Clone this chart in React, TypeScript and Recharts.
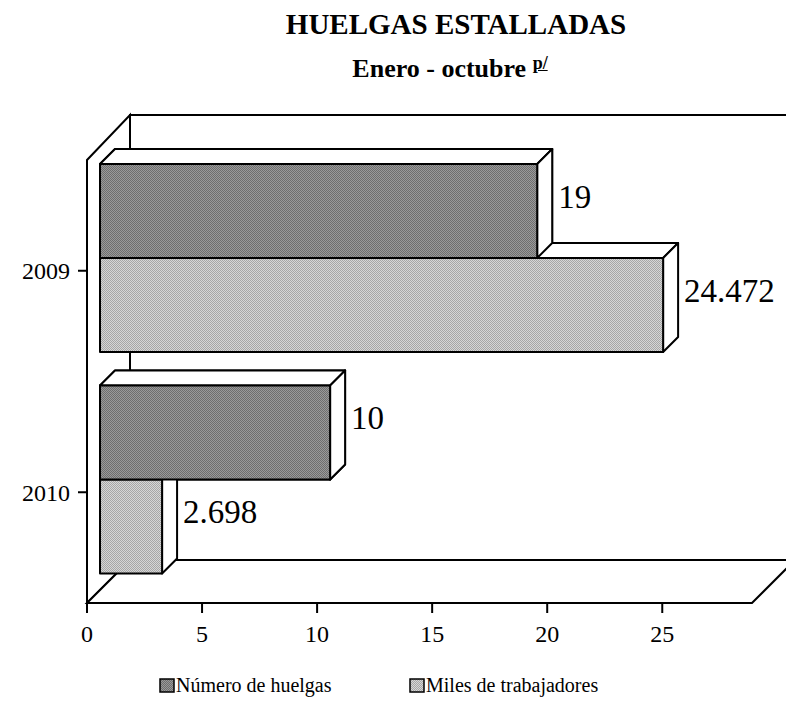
import { Bar, BarChart, XAxis, YAxis } from "recharts";

const years = ["2009", "2010"];
const numeroHuelgas = [19, 10];
const milesTrabajadores = [24.472, 2.698];
const xTicks = [0, 5, 10, 15, 20, 25];

const data = years.map((year, i) => ({
  year,
  huelgas: numeroHuelgas[i],
  miles: milesTrabajadores[i],
}));

const W = 786;
const H = 703;
const PLOT_LEFT = 87;
const PLOT_TOP = 160;
const PLOT_RIGHT = 752;
const PLOT_BOTTOM = 603;
const XAXIS_H = 40;
const WALL = 43; // depth of the 3d frame
const SHIFT = 13; // bar front face offset from front plane
const D = 15; // bar depth
const FONT = '"Liberation Serif", "Times New Roman", serif';

function box(x: number, y: number, w: number, h: number, fill: string) {
  const x0 = x + SHIFT;
  const y0 = y - SHIFT;
  return (
    <g stroke="#000" strokeWidth={2} strokeLinejoin="round">
      <polygon fill="#fff" points={`${x0},${y0} ${x0 + D},${y0 - D} ${x0 + w + D},${y0 - D} ${x0 + w},${y0}`} />
      <polygon fill="#fff" points={`${x0 + w},${y0} ${x0 + w + D},${y0 - D} ${x0 + w + D},${y0 + h - D} ${x0 + w},${y0 + h}`} />
      <rect x={x0} y={y0} width={w} height={h} fill={fill} />
    </g>
  );
}

function valueLabel(x: number, y: number, w: number, h: number, v: number) {
  return (
    <text x={x + SHIFT + w + D + 6} y={y - SHIFT - D + h / 2} dy="0.35em" fontSize={33} fontFamily={FONT} fill="#000">
      {String(v)}
    </text>
  );
}

function HuelgasShape(props: any) {
  const { x, y, width, height, payload } = props;
  return (
    <g>
      {box(x, y, width, height, "url(#patDark)")}
      {valueLabel(x, y, width, height, payload.huelgas)}
    </g>
  );
}

function MilesShape(props: any) {
  const { x, y, width, height, payload } = props;
  // redraw the bar above so it stays in front of this one
  const wH = (width * payload.huelgas) / payload.miles;
  return (
    <g>
      {box(x, y, width, height, "url(#patLight)")}
      {valueLabel(x, y, width, height, payload.miles)}
      {box(x, y - height, wH, height, "url(#patDark)")}
    </g>
  );
}

function Frame() {
  const bx = PLOT_LEFT + WALL;
  const ty = PLOT_TOP - WALL - 2;
  const by = PLOT_BOTTOM - WALL;
  return (
    <svg width={W} height={H} style={{ position: "absolute", left: 0, top: 0 }}>
      <g stroke="#000" strokeWidth={2} fill="#fff">
        <rect x={bx} y={ty} width={PLOT_RIGHT - PLOT_LEFT + 10} height={by - ty} />
        <polygon points={`${PLOT_LEFT},${PLOT_TOP} ${bx},${ty} ${bx},${by} ${PLOT_LEFT},${PLOT_BOTTOM}`} />
        <polygon points={`${PLOT_LEFT},${PLOT_BOTTOM} ${bx},${by} ${PLOT_RIGHT + WALL},${by} ${PLOT_RIGHT},${PLOT_BOTTOM}`} />
      </g>
    </svg>
  );
}

function Swatch({ fill }: { fill: string }) {
  return (
    <svg width={16} height={15} style={{ marginRight: 1 }}>
      <defs>
        <pattern id={"lg" + fill} width={2} height={2} patternUnits="userSpaceOnUse">
          <rect width={2} height={2} fill={fill === "dark" ? "#9a9a9a" : "#d6d6d6"} />
          <rect width={1} height={1} fill={fill === "dark" ? "#6e6e6e" : "#a6a6a6"} />
          <rect x={1} y={1} width={1} height={1} fill={fill === "dark" ? "#6e6e6e" : "#a6a6a6"} />
        </pattern>
      </defs>
      <rect x={1} y={1} width={14} height={13} fill={`url(#lg${fill})`} stroke="#000" strokeWidth={1.5} />
    </svg>
  );
}

export default function App() {
  return (
    <div style={{ position: "absolute", left: 0, top: 0, width: W, height: H, background: "#fff", fontFamily: FONT }}>
      <div style={{ position: "absolute", left: 0, top: 8, width: 912, textAlign: "center", fontSize: 29, fontWeight: "bold" }}>
        HUELGAS ESTALLADAS
      </div>
      <div style={{ position: "absolute", left: 0, top: 53, width: 900, textAlign: "center", fontSize: 26, fontWeight: "bold", whiteSpace: "nowrap" }}>
        Enero - octubre{" "}
        <span style={{ fontSize: 18, textDecoration: "underline", verticalAlign: "8px" }}>p/</span>
      </div>
      <Frame />
      <div style={{ position: "absolute", left: 0, top: 0 }}>
        <BarChart
          width={W}
          height={H}
          data={data}
          layout="vertical"
          barGap={0}
          barCategoryGap={17}
          margin={{ top: PLOT_TOP, right: W - PLOT_RIGHT, bottom: H - PLOT_BOTTOM - XAXIS_H, left: 0 }}
        >
          <defs>
            <pattern id="patDark" width={2} height={2} patternUnits="userSpaceOnUse">
              <rect width={2} height={2} fill="#9a9a9a" />
              <rect width={1} height={1} fill="#6e6e6e" />
              <rect x={1} y={1} width={1} height={1} fill="#6e6e6e" />
            </pattern>
            <pattern id="patLight" width={2} height={2} patternUnits="userSpaceOnUse">
              <rect width={2} height={2} fill="#d6d6d6" />
              <rect width={1} height={1} fill="#a6a6a6" />
              <rect x={1} y={1} width={1} height={1} fill="#a6a6a6" />
            </pattern>
          </defs>
          <XAxis
            type="number"
            domain={[0, 28.9]}
            ticks={xTicks}
            height={XAXIS_H}
            tickSize={10}
            tickMargin={12}
            axisLine={{ stroke: "#000", strokeWidth: 2 }}
            tickLine={{ stroke: "#000", strokeWidth: 2 }}
            tick={{ fill: "#000", fontSize: 24, fontFamily: FONT }}
          />
          <YAxis
            type="category"
            dataKey="year"
            width={PLOT_LEFT}
            tickSize={9}
            tickMargin={8}
            axisLine={{ stroke: "#000", strokeWidth: 2 }}
            tickLine={{ stroke: "#000", strokeWidth: 2 }}
            tick={{ fill: "#000", fontSize: 24, fontFamily: FONT }}
          />
          <Bar dataKey="huelgas" name="Número de huelgas" shape={HuelgasShape} isAnimationActive={false} />
          <Bar dataKey="miles" name="Miles de trabajadores" shape={MilesShape} isAnimationActive={false} />
        </BarChart>
      </div>
      <div style={{ position: "absolute", left: 159, top: 674, fontSize: 20, display: "flex", alignItems: "center" }}>
        <Swatch fill="dark" />
        <span>Número de huelgas</span>
      </div>
      <div style={{ position: "absolute", left: 409, top: 674, fontSize: 20, display: "flex", alignItems: "center" }}>
        <Swatch fill="light" />
        <span>Miles de trabajadores</span>
      </div>
    </div>
  );
}
